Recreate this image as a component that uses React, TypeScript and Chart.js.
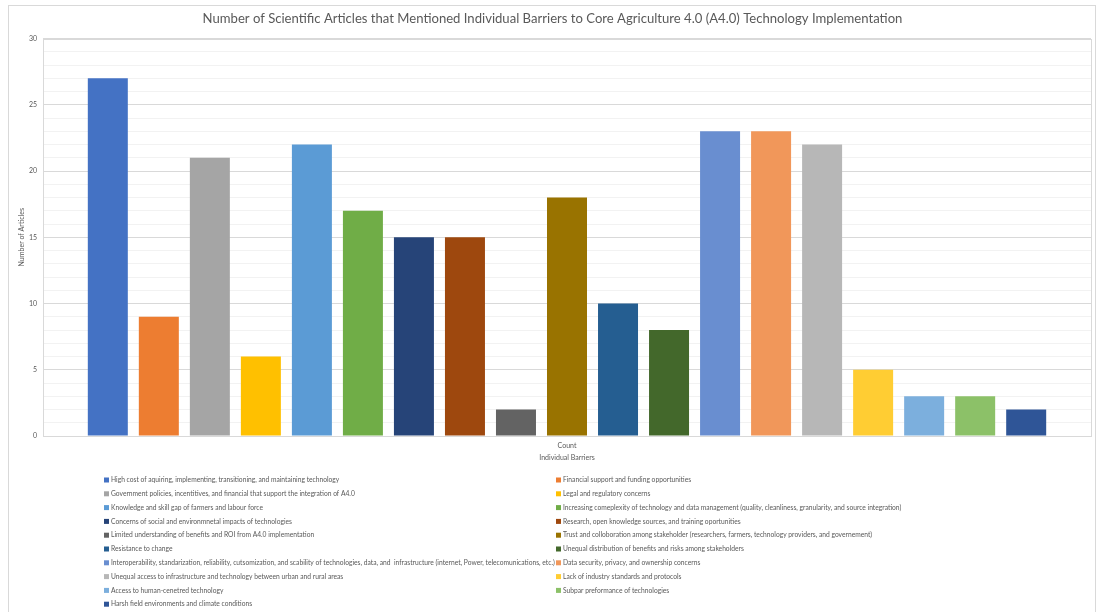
import React, { useEffect, useRef } from "react";
import { Chart, registerables } from "chart.js";

Chart.register(...registerables);

const categories = ["Count"];

const barrierLabels = [
  "High cost of aquiring, implementing, transitioning, and maintaining technology",
  "Financial support and funding opportunities",
  "Government policies, incentitives, and financial that support the integration of A4.0",
  "Legal and regulatory concerns",
  "Knowledge and skill gap of farmers and labour force",
  "Increasing comeplexity of technology and data management (quality, cleanliness, granularity, and source integration)",
  "Concerns of social and environmnetal impacts of technologies",
  "Research, open knowledge sources, and training oportunities",
  "Limited understanding of benefits and ROI from A4.0 implementation",
  "Trust and colloboration among stakeholder (researchers, farmers, technology providers, and governement)",
  "Resistance to change",
  "Unequal distribution of benefits and risks among stakeholders",
  "Interoperability, standarization, reliability, cutsomization, and scability of technologies, data, and  infrastructure (internet, Power, telecomunications, etc.)",
  "Data security, privacy, and ownership concerns",
  "Unequal access to infrastructure and technology between urban and rural areas",
  "Lack of industry standards and protocols",
  "Access to human-cenetred technology",
  "Subpar preformance of technologies",
  "Harsh field environments and climate conditions",
];

const articleCounts = [27, 9, 21, 6, 22, 17, 15, 15, 2, 18, 10, 8, 23, 23, 22, 5, 3, 3, 2];

const barColors = [
  "#4472C4", "#ED7D31", "#A5A5A5", "#FFC000", "#5B9BD5", "#70AD47",
  "#264478", "#9E480E", "#636363", "#997300", "#255E91", "#43682B",
  "#698ED0", "#F1975A", "#B7B7B7", "#FFCD33", "#7CAFDD", "#8CC168",
  "#2F5597",
];

const yTickLabels = [0, 5, 10, 15, 20, 25, 30];

const FONT = "Lato, 'Liberation Sans', sans-serif";
const TEXT = "#595959";

const frameAndLegend = {
  id: "frameAndLegend",
  beforeDraw(chart: any) {
    const ctx = chart.ctx;
    ctx.save();
    ctx.fillStyle = "#ffffff";
    ctx.fillRect(0, 0, chart.width, chart.height);
    ctx.strokeStyle = "#D9D9D9";
    ctx.lineWidth = 1;
    ctx.strokeRect(8.5, 5.5, 1087, 620);
    ctx.restore();
  },
  afterDraw(chart: any) {
    const ctx = chart.ctx;
    const a = chart.chartArea;
    ctx.save();
    ctx.strokeStyle = "#D9D9D9";
    ctx.lineWidth = 1;
    ctx.strokeRect(Math.round(a.left) + 0.5, Math.round(a.top) + 0.5, Math.round(a.right - a.left), Math.round(a.bottom - a.top));
    // legend in two columns
    const colX = [104, 556];
    const rowY0 = 480;
    const rowStep = 13.8;
    ctx.font = `6.7px ${FONT}`;
    ctx.textBaseline = "middle";
    ctx.textAlign = "left";
    chart.data.datasets.forEach((ds: any, i: number) => {
      const col = i % 2;
      const row = Math.floor(i / 2);
      const x = colX[col];
      const y = rowY0 + row * rowStep;
      ctx.fillStyle = ds.backgroundColor;
      ctx.fillRect(x, y - 2.5, 5, 5);
      ctx.fillStyle = TEXT;
      ctx.fillText(ds.label, x + 7, y);
    });
    ctx.restore();
  },
};

export default function App() {
  const ref = useRef<HTMLCanvasElement | null>(null);
  useEffect(() => {
    if (!ref.current) return;
    const chart = new Chart(ref.current, {
      type: "bar",
      data: {
        labels: categories,
        datasets: barrierLabels.map((label, i) => ({
          label,
          data: [articleCounts[i]],
          backgroundColor: barColors[i],
          borderWidth: 0,
          categoryPercentage: 0.925,
          barPercentage: 0.784,
        })),
      },
      options: {
        animation: false,
        responsive: false,
        maintainAspectRatio: false,
        layout: { padding: { left: 14, right: 7, top: 0, bottom: 146 } },
        plugins: {
          legend: { display: false },
          tooltip: { enabled: false },
          title: {
            display: true,
            text: "Number of Scientific Articles that Mentioned Individual Barriers to Core Agriculture 4.0 (A4.0) Technology Implementation",
            color: TEXT,
            font: { family: FONT, size: 13.1, weight: "normal" },
            padding: { top: 11, bottom: 11.8 },
          },
        },
        scales: {
          x: {
            afterFit: (s: any) => { s.height = 30; },
            grid: { display: false, drawTicks: false },
            border: { display: false },
            ticks: { color: TEXT, font: { family: FONT, size: 7 }, padding: 6 },
            title: {
              display: true,
              text: "Individual Barriers",
              color: TEXT,
              font: { family: FONT, size: 7 },
              padding: { top: 4, bottom: 4 },
            },
          },
          y: {
            min: 0,
            max: 30,
            afterFit: (s: any) => { s.width = 29; },
            afterBuildTicks: (s: any) => {
              const t: any[] = [];
              for (let v = 0; v <= 30; v++) t.push({ value: v });
              s.ticks = t;
            },
            grid: {
              drawTicks: false,
              color: (c: any) => (yTickLabels.includes(c.tick?.value) ? "#D9D9D9" : "#F2F2F2"),
              lineWidth: 1,
            },
            border: { display: false },
            ticks: {
              color: TEXT,
              font: { family: FONT, size: 7 },
              padding: 6,
              autoSkip: false,
              callback: (v: any) => (yTickLabels.includes(Number(v)) ? String(v) : ""),
            },
            title: {
              display: true,
              text: "Number of Articles",
              color: TEXT,
              font: { family: FONT, size: 7 },
              padding: { top: 4, bottom: 0 },
            },
          },
        },
      },
      plugins: [frameAndLegend],
    });
    return () => chart.destroy();
  }, []);
  return (
    <div style={{ position: "fixed", left: 0, top: 0, width: 1098, height: 612, background: "#fff" }}>
      <canvas ref={ref} width={1098} height={612} style={{ display: "block", width: 1098, height: 612 }} />
    </div>
  );
}
